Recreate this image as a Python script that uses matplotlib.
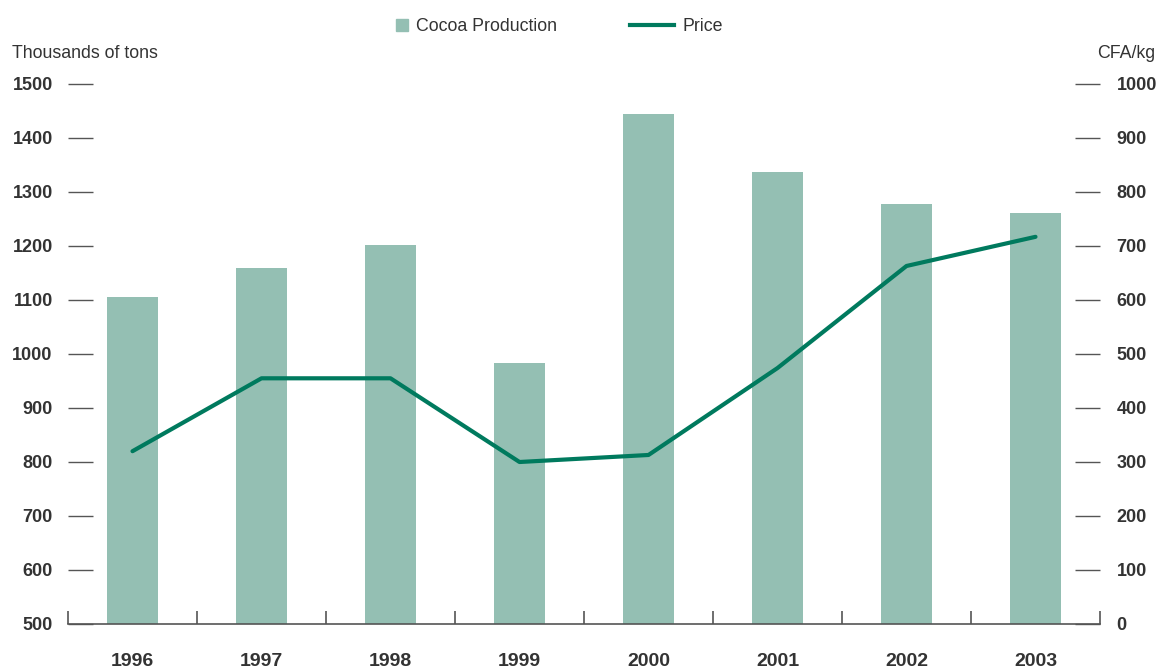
import numpy as np
import matplotlib
matplotlib.use("Agg")
import matplotlib.pyplot as plt
from matplotlib.patches import Patch
from matplotlib.lines import Line2D

plt.rcParams['font.family'] = ['Liberation Sans', 'DejaVu Sans']

years = ['1996', '1997', '1998', '1999', '2000', '2001', '2002', '2003']
production = [1105, 1159, 1202, 983, 1444, 1337, 1278, 1261]   # thousands of tons
price = [320, 455, 455, 300, 313, 474, 663, 717]                 # CFA/kg

bar_color = '#94bfb3'
line_color = '#007a5e'
text_color = '#333333'
axis_color = '#555555'

W, H = 1158, 671
fig = plt.figure(figsize=(W / 100, H / 100), dpi=100)
ax1 = fig.add_axes([68 / W, 1 - 624 / H, (1100 - 68) / W, (624 - 84) / H])
ax2 = ax1.twinx()

x = np.arange(len(years))
ax1.bar(x, production, width=0.4, color=bar_color, zorder=1)
ax2.plot(x, price, color=line_color, lw=3, solid_capstyle='round', zorder=3)

ax1.set_xlim(-0.5, len(years) - 0.5)
ax1.set_ylim(500, 1500)
ax2.set_ylim(0, 1000)

for a in (ax1, ax2):
    for s in a.spines.values():
        s.set_visible(False)
ax1.spines['bottom'].set_visible(True)
ax1.spines['bottom'].set_color(axis_color)
ax1.spines['bottom'].set_linewidth(1.2)

# y ticks: short lines drawn inward
ax1.set_yticks(np.arange(500, 1501, 100))
ax1.tick_params(axis='y', direction='in', length=18, width=1, color=axis_color,
                pad=11, labelsize=13, labelcolor=text_color)
ax2.set_yticks(np.arange(0, 1001, 100))
ax2.tick_params(axis='y', direction='in', length=18, width=1, color=axis_color,
                pad=12, labelsize=13, labelcolor=text_color)
for lab in ax1.get_yticklabels() + ax2.get_yticklabels():
    lab.set_fontweight('bold')

# x ticks: labels at centres, small marks at category boundaries
ax1.set_xticks(x)
ax1.set_xticklabels(years, fontweight='bold')
ax1.set_xticks(np.arange(-0.5, len(years)), minor=True)
ax1.tick_params(axis='x', which='major', length=0, pad=21, labelsize=14, labelcolor=text_color)
ax1.tick_params(axis='x', which='minor', direction='in', length=9.5, width=1.2, color=axis_color)

fig.text(12 / W, 1 - 53 / H, 'Thousands of tons', fontsize=12.8, color=text_color,
         ha='left', va='center')
fig.text(1155 / W, 1 - 53 / H, 'CFA/kg', fontsize=12.8, color=text_color,
         ha='right', va='center')

leg1 = fig.legend(handles=[Patch(color=bar_color, label='Cocoa Production')],
                  loc='center left', bbox_to_anchor=(380 / W, 1 - 26.5 / H), frameon=False,
                  handlelength=0.7, handleheight=0.7, handletextpad=0.4,
                  fontsize=12.8, labelcolor=text_color)
leg2 = fig.legend(handles=[Line2D([], [], color=line_color, lw=3, label='Price')],
                  loc='center left', bbox_to_anchor=(614 / W, 1 - 26.5 / H), frameon=False,
                  handlelength=2.45, handletextpad=0.5,
                  fontsize=12.8, labelcolor=text_color)

fig.savefig('out.png', dpi=100)
